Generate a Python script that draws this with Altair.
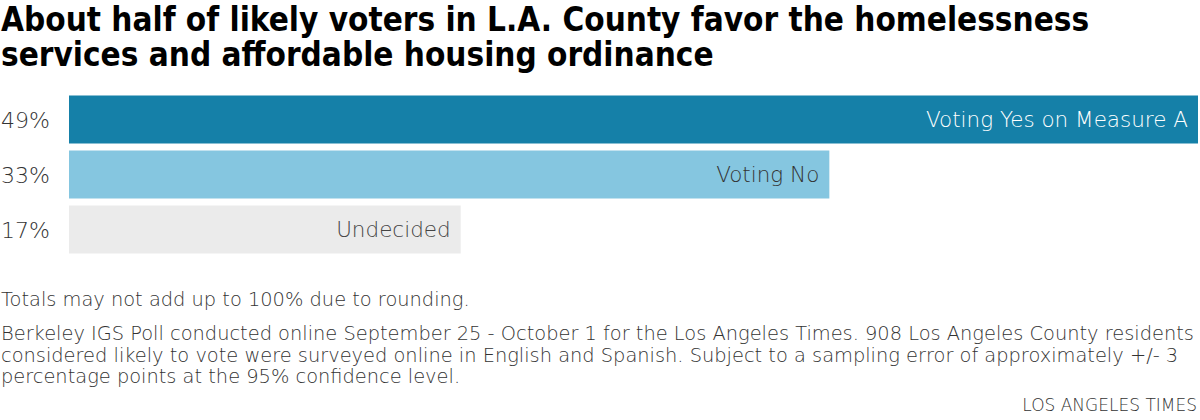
import altair as alt
import pandas as pd

categories = ["Voting Yes on Measure A", "Voting No", "Undecided"]
values = [49, 33, 17]
pct_labels = ["49%", "33%", "17%"]
bar_colors = ["#1580a8", "#85c6e0", "#ebebeb"]
text_colors = ["#ffffff", "#333333", "#444444"]

title_lines = [
    "About half of likely voters in L.A. County favor the homelessness",
    "services and affordable housing ordinance",
]
note_line = "Totals may not add up to 100% due to rounding."
source_lines = [
    "Berkeley IGS Poll conducted online September 25 - October 1 for the Los Angeles Times. 908 Los Angeles County residents",
    "considered likely to vote were surveyed online in English and Spanish. Subject to a sampling error of approximately +/- 3",
    "percentage points at the 95% confidence level.",
]
credit = "LOS ANGELES TIMES"

df = pd.DataFrame({
    "cat": categories,
    "val": values,
    "pct": pct_labels,
    "tcolor": text_colors,
})

TITLE_FONT = "Liberation Sans Narrow, DejaVu Sans Condensed, Roboto, sans-serif"
BODY_FONT = "DejaVu Sans, sans-serif"
BODY_W = 200

W, H = 1129, 165
PAD_L, PAD_T = 69, 92

y_enc = alt.Y("cat:N", sort=categories, axis=None,
              scale=alt.Scale(paddingInner=0.125, paddingOuter=0.0625))
x_scale = alt.Scale(domain=[0, 49], nice=False, zero=True)

bars = alt.Chart(df).mark_bar(cornerRadius=0).encode(
    x=alt.X("val:Q", scale=x_scale, axis=None),
    y=y_enc,
    color=alt.Color("cat:N", scale=alt.Scale(domain=categories, range=bar_colors), legend=None),
)

inner = alt.Chart(df).mark_text(align="right", baseline="middle", dx=-10, dy=1,
                                 fontSize=21.5, font=BODY_FONT, fontWeight=BODY_W).encode(
    x=alt.X("val:Q", scale=x_scale),
    y=y_enc,
    text="cat:N",
    color=alt.Color("tcolor:N", scale=None),
)

pcts = alt.Chart(df).mark_text(align="left", baseline="middle", dy=1,
                                fontSize=22, font=BODY_FONT, color="#333333", fontWeight=BODY_W).encode(
    x=alt.value(-PAD_L + 1),
    y=y_enc,
    text="pct:N",
)

title_marks = []
for i, line in enumerate(title_lines):
    tdf = pd.DataFrame({"t": [line]})
    title_marks.append(alt.Chart(tdf).mark_text(
        align="left", baseline="alphabetic", fontSize=33, fontWeight="bold",
        font=TITLE_FONT, color="#000000",
    ).encode(x=alt.value(-PAD_L + 1), y=alt.value(30.5 + 35.5 * i - PAD_T), text="t"))

note_df = pd.DataFrame({"t": [note_line]})
note = alt.Chart(note_df).mark_text(
    align="left", baseline="alphabetic", fontSize=19.4, font=BODY_FONT,
    color="#333333", fontWeight=BODY_W,
).encode(x=alt.value(-PAD_L + 1), y=alt.value(306 - PAD_T), text="t")

src_marks = []
for i, line in enumerate(source_lines):
    ldf = pd.DataFrame({"t": [line]})
    src_marks.append(alt.Chart(ldf).mark_text(
        align="left", baseline="alphabetic", fontSize=19.4, font=BODY_FONT,
        color="#333333", fontWeight=BODY_W,
    ).encode(x=alt.value(-PAD_L + 1), y=alt.value(340 + 21.5 * i - PAD_T), text="t"))

cred_df = pd.DataFrame({"t": [credit]})
cred = alt.Chart(cred_df).mark_text(
    align="right", baseline="alphabetic", fontSize=17, font=BODY_FONT,
    color="#333333", fontWeight=BODY_W,
).encode(x=alt.value(W - 1), y=alt.value(411 - PAD_T), text="t")

chart = alt.layer(bars, inner, pcts, *title_marks, note, *src_marks, cred).properties(
    width=W, height=H,
    autosize=alt.AutoSizeParams(type="none"),
    padding={"left": PAD_L, "top": PAD_T, "right": 2, "bottom": 420 - PAD_T - H},
    background="#ffffff",
).configure_view(stroke=None)

chart.save("out.html", embed_options={"renderer": "svg", "actions": False})
